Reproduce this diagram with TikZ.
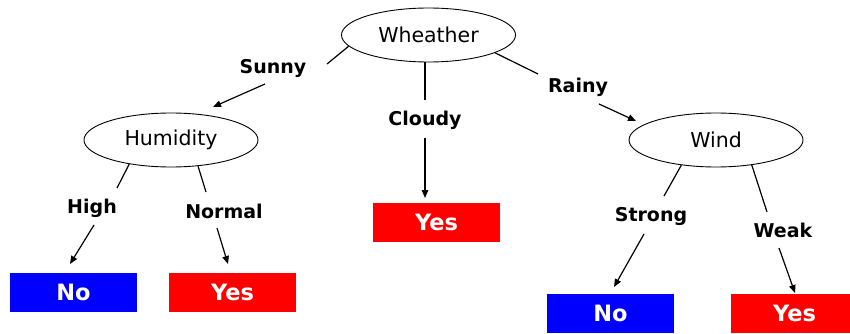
\documentclass[tikz,border=0pt]{standalone}
\usepackage{fontspec}
\setmainfont{DejaVu Sans}
\usetikzlibrary{shapes.geometric,arrows.meta}
\begin{document}
\begin{tikzpicture}[x=1pt,y=-1pt,
 attr/.style={draw, ellipse, line width=0.9pt, minimum width=174pt, minimum height=54pt, inner sep=0pt, font=\fontsize{20.5}{24}\selectfont},
 leafbox/.style={rectangle, minimum width=127pt, minimum height=39pt, inner sep=0pt, text=white, font=\bfseries\fontsize{22.5}{26}\selectfont},
 edgelbl/.style={font=\bfseries\fontsize{19}{22}\selectfont, inner sep=0pt},
 conn/.style={line width=1.2pt},
 arr/.style={conn, -{Triangle[length=8pt,width=6.5pt]}}]
\useasboundingbox (0,0) rectangle (850,334);
% attribute nodes
\node[attr] (W) at (428.5,35) {Wheather};
\node[attr] (H) at (171,140) {Humidity};
\node[attr] (Wd) at (716,140) {Wind};
% leaves
\node[leafbox, fill=blue] (no1) at (73.5,292.5) {No};
\node[leafbox, fill=red] (yes1) at (232.5,292.5) {Yes};
\node[leafbox, fill=red] (yes2) at (436.5,222.5) {Yes};
\node[leafbox, fill=blue] (no2) at (610.5,313) {No};
\node[leafbox, fill=red] (yes3) at (794.5,313) {Yes};
% edge labels
\node[edgelbl] (ls) at (273,68) {Sunny};
\node[edgelbl] (lr) at (578,87) {Rainy};
\node[edgelbl] (lc) at (425,120) {Cloudy};
\node[edgelbl] (lh) at (92,208) {High};
\node[edgelbl] (ln) at (224,211) {Normal};
\node[edgelbl] (lst) at (651,216) {Strong};
\node[edgelbl] (lw) at (783,230) {Weak};
% connector points
\coordinate (s1) at (327,64); \coordinate (s2) at (265,84); \coordinate (s3) at (213,107);
\coordinate (r1) at (538,74); \coordinate (r2) at (599,104); \coordinate (r3) at (636,121);
\coordinate (c1) at (425,100); \coordinate (c2) at (425,138); \coordinate (c3) at (425,198);
\coordinate (h1) at (117,188); \coordinate (h2) at (94,225); \coordinate (h3) at (70,264);
\coordinate (m1) at (206,192); \coordinate (m2) at (217,228); \coordinate (m3) at (228,264);
\coordinate (t1) at (664,196); \coordinate (t2) at (644,234); \coordinate (t3) at (614,287);
\coordinate (k1) at (767,212); \coordinate (k2) at (779,248); \coordinate (k3) at (795,293);
% connectors
\draw[conn] (W.188) -- (s1); \draw[arr] (s2) -- (s3);
\draw[conn] (W.-15) -- (r1); \draw[arr] (r2) -- (r3);
\draw[conn] (W.south -| c1) -- (c1); \draw[arr] (c2) -- (c3);
\draw[conn] (H.210) -- (h1); \draw[arr] (h2) -- (h3);
\draw[conn] (H.316) -- (m1); \draw[arr] (m2) -- (m3);
\draw[conn] (Wd.216) -- (t1); \draw[arr] (t2) -- (t3);
\draw[conn] (Wd.325) -- (k1); \draw[arr] (k2) -- (k3);
\end{tikzpicture}
\end{document}
